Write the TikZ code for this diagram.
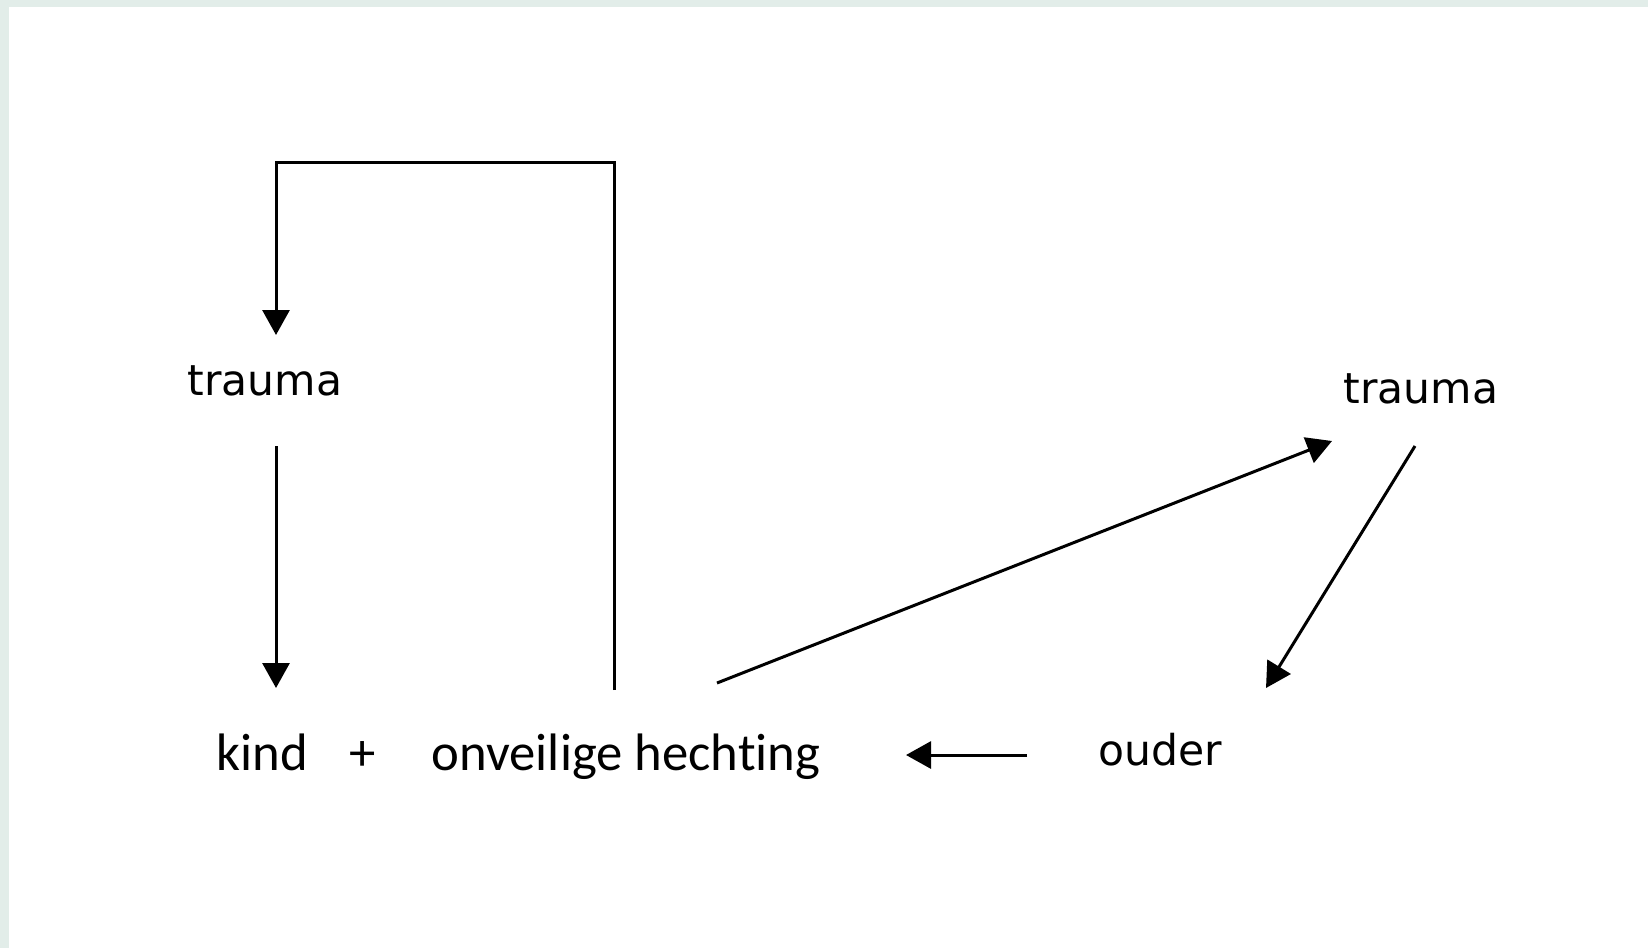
\documentclass[tikz,border=0pt]{standalone}
\usepackage{fontspec}
\newfontfamily\verafont{DejaVu Sans}
\newfontfamily\calfont[Ligatures=NoCommon]{Carlito}
\usetikzlibrary{arrows.meta, positioning, calc}
\definecolor{rand}{RGB}{226,237,233}

\begin{document}
\begin{tikzpicture}[x=1pt, y=-1pt,
    pijl/.style={line width=3pt, -{Triangle[width=27pt,length=25pt]}},
    kop/.style={font=\verafont\fontsize{42.5}{50}\selectfont, anchor=base, inner sep=0pt},
    tekst/.style={font=\calfont\fontsize{52.7}{60}\selectfont, anchor=base, inner sep=0pt}]
    % achtergrond met rand
    \fill[rand] (0,0) rectangle (1648,948);
    \fill[white] (9,7) rectangle (1648,948);
    \useasboundingbox (0,0) rectangle (1648,948);

    \node[kop] (T1) at (265,395) {trauma};
    \node[kop] (T2) at (1421,403) {trauma};
    \node[tekst] (K) at (262,770) {kind};
    \node[tekst] (P) at (363,770) {+};
    \node[tekst] (H) at (626,770) {onveilige hechting};
    \node[kop] (O) at (1160,765) {ouder};

    \coordinate (L1) at (614,690);
    \coordinate (L2) at (614,162);
    \coordinate (L3) at (276,162);
    \coordinate (L4) at (276,335);
    \coordinate (A1) at (276,446);
    \coordinate (A2) at (276,688);
    \coordinate (B1) at (717,683);
    \coordinate (B2) at (1332,441);
    \coordinate (C1) at (1415,446);
    \coordinate (C2) at (1266,688);
    \coordinate (D1) at (1027,755);
    \coordinate (D2) at (906,755);

    \draw[pijl] (L1) -- (L2) -- (L3) -- (L4);
    \draw[pijl] (A1) -- (A2);
    \draw[pijl] (B1) -- (B2);
    \draw[pijl] (C1) -- (C2);
    \draw[pijl] (D1) -- (D2);
\end{tikzpicture}
\end{document}
